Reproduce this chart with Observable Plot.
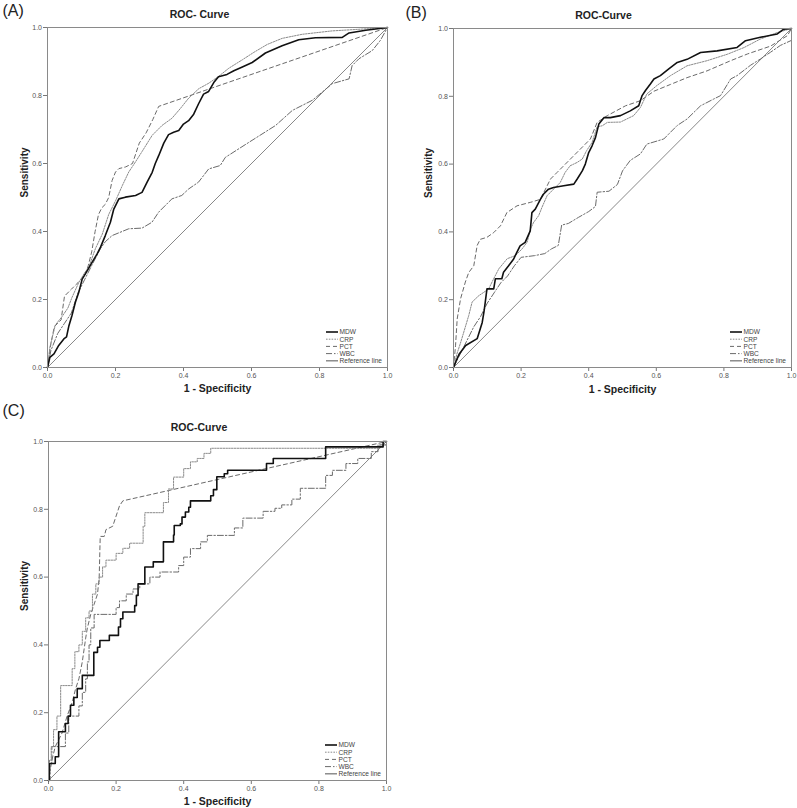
<!DOCTYPE html>
<html>
<head>
<meta charset="utf-8">
<script src="https://cdn.jsdelivr.net/npm/d3@7"></script>
<script src="https://cdn.jsdelivr.net/npm/@observablehq/plot@0.6"></script>
<style>
  html, body { margin: 0; padding: 0; background: #fff; }
  #page { position: relative; width: 797px; height: 808px; background: #fff; overflow: hidden; }
  .panel { position: absolute; }
</style>
</head>
<body>
<div id="page">
  <div id="pA" class="panel" style="left:0;top:0"></div>
  <div id="pB" class="panel" style="left:395px;top:0"></div>
  <div id="pC" class="panel" style="left:0;top:395px"></div>
</div>
<script>
// ---------- texts ----------
const panelTags = ["(A)", "(B)", "(C)"];
const panelTitles = ["ROC- Curve", "ROC-Curve", "ROC-Curve"];
const xLabel = "1 - Specificity";
const yLabel = "Sensitivity";
const seriesNames = ["MDW", "CRP", "PCT", "WBC", "Reference line"];
const ticks = [0, 0.2, 0.4, 0.6, 0.8, 1.0];
const refLine = [[0, 0], [1, 1]];

// ---------- panel A ----------
const A_MDW = [[0,0],[0.007,0.03],[0.019,0.04],[0.033,0.065],[0.048,0.084],[0.056,0.09],[0.063,0.123],[0.072,0.153],[0.082,0.192],[0.092,0.221],[0.102,0.26],[0.117,0.285],[0.131,0.309],[0.146,0.334],[0.156,0.354],[0.17,0.388],[0.185,0.427],[0.195,0.466],[0.21,0.496],[0.229,0.501],[0.259,0.506],[0.278,0.515],[0.293,0.545],[0.308,0.574],[0.317,0.6],[0.327,0.623],[0.342,0.66],[0.356,0.685],[0.371,0.692],[0.386,0.697],[0.4,0.716],[0.415,0.726],[0.43,0.745],[0.444,0.775],[0.459,0.804],[0.474,0.812],[0.489,0.838],[0.503,0.855],[0.528,0.862],[0.548,0.873],[0.573,0.884],[0.602,0.897],[0.641,0.925],[0.69,0.946],[0.739,0.964],[0.788,0.97],[0.867,0.971],[0.887,0.984],[0.936,0.992],[1,1]];
const A_CRP = [[0,0],[0.007,0.06],[0.023,0.125],[0.043,0.15],[0.06,0.175],[0.072,0.206],[0.092,0.25],[0.11,0.28],[0.121,0.294],[0.141,0.35],[0.161,0.392],[0.18,0.45],[0.2,0.49],[0.22,0.535],[0.239,0.575],[0.259,0.605],[0.278,0.635],[0.308,0.683],[0.337,0.712],[0.366,0.733],[0.391,0.762],[0.415,0.792],[0.445,0.82],[0.474,0.836],[0.503,0.856],[0.533,0.88],[0.573,0.905],[0.607,0.927],[0.646,0.95],[0.69,0.968],[0.749,0.98],[0.837,0.99],[0.92,0.995],[1,1]];
const A_PCT = [[0,0],[0.01,0.07],[0.02,0.12],[0.04,0.14],[0.05,0.21],[0.07,0.23],[0.09,0.25],[0.11,0.27],[0.12,0.3],[0.13,0.34],[0.14,0.4],[0.15,0.45],[0.16,0.47],[0.17,0.48],[0.18,0.5],[0.19,0.55],[0.2,0.575],[0.21,0.585],[0.23,0.59],[0.25,0.6],[0.26,0.63],[0.27,0.66],[0.29,0.69],[0.31,0.73],[0.327,0.768],[1,1]];
const A_WBC = [[0,0],[0.01,0.05],[0.03,0.1],[0.05,0.13],[0.07,0.16],[0.09,0.22],[0.11,0.26],[0.13,0.3],[0.156,0.35],[0.17,0.37],[0.19,0.388],[0.239,0.408],[0.278,0.41],[0.307,0.427],[0.327,0.457],[0.366,0.496],[0.395,0.506],[0.415,0.525],[0.444,0.545],[0.474,0.584],[0.508,0.594],[0.523,0.618],[0.592,0.662],[0.671,0.712],[0.72,0.756],[0.779,0.786],[0.838,0.835],[0.887,0.849],[0.896,0.888],[0.916,0.908],[0.955,0.932],[0.979,0.962],[1,1]];

// ---------- panel B ----------
const B_MDW = [[0,0],[0.008,0.02],[0.017,0.04],[0.036,0.065],[0.07,0.085],[0.085,0.133],[0.09,0.163],[0.094,0.193],[0.099,0.232],[0.119,0.232],[0.124,0.262],[0.143,0.262],[0.148,0.281],[0.163,0.3],[0.178,0.32],[0.187,0.339],[0.197,0.359],[0.212,0.369],[0.227,0.403],[0.232,0.457],[0.242,0.467],[0.257,0.496],[0.266,0.511],[0.281,0.526],[0.296,0.531],[0.326,0.536],[0.356,0.541],[0.366,0.556],[0.381,0.58],[0.39,0.6],[0.4,0.634],[0.41,0.654],[0.42,0.678],[0.43,0.718],[0.445,0.737],[0.464,0.737],[0.494,0.743],[0.523,0.757],[0.548,0.772],[0.558,0.802],[0.568,0.817],[0.583,0.837],[0.593,0.851],[0.612,0.861],[0.637,0.881],[0.662,0.9],[0.691,0.909],[0.731,0.929],[0.78,0.934],[0.839,0.944],[0.864,0.964],[0.908,0.974],[0.958,0.984],[0.977,0.998],[1,1]];
const B_CRP = [[0,0],[0.01,0.04],[0.02,0.07],[0.03,0.103],[0.045,0.153],[0.055,0.193],[0.075,0.212],[0.09,0.222],[0.104,0.232],[0.119,0.262],[0.134,0.291],[0.159,0.321],[0.183,0.33],[0.203,0.35],[0.218,0.37],[0.228,0.409],[0.237,0.428],[0.252,0.448],[0.262,0.473],[0.277,0.507],[0.296,0.526],[0.316,0.546],[0.33,0.575],[0.345,0.595],[0.366,0.605],[0.381,0.615],[0.394,0.64],[0.41,0.664],[0.425,0.71],[0.44,0.713],[0.455,0.723],[0.494,0.724],[0.533,0.743],[0.553,0.767],[0.572,0.807],[0.602,0.832],[0.642,0.861],[0.691,0.89],[0.75,0.905],[0.81,0.924],[0.86,0.944],[0.908,0.969],[0.958,0.988],[1,1]];
const B_PCT = [[0,0],[0.006,0.064],[0.011,0.144],[0.021,0.203],[0.035,0.252],[0.045,0.28],[0.06,0.3],[0.07,0.36],[0.079,0.378],[0.099,0.384],[0.119,0.398],[0.139,0.418],[0.158,0.457],[0.188,0.477],[0.227,0.487],[0.257,0.496],[0.277,0.536],[0.287,0.556],[0.306,0.575],[0.326,0.595],[0.356,0.625],[0.385,0.654],[0.405,0.674],[0.425,0.723],[0.455,0.743],[0.509,0.772],[0.553,0.787],[0.593,0.815],[0.642,0.835],[0.691,0.855],[0.75,0.875],[0.82,0.905],[0.87,0.925],[0.938,0.948],[0.988,0.979],[1,1]];
const B_WBC = [[0,0],[0.02,0.04],[0.04,0.08],[0.06,0.12],[0.08,0.15],[0.1,0.19],[0.12,0.22],[0.14,0.25],[0.16,0.27],[0.18,0.3],[0.2,0.325],[0.24,0.33],[0.27,0.336],[0.29,0.35],[0.31,0.36],[0.32,0.42],[0.34,0.425],[0.37,0.443],[0.4,0.46],[0.42,0.475],[0.425,0.517],[0.46,0.52],[0.485,0.54],[0.5,0.58],[0.523,0.611],[0.553,0.63],[0.572,0.659],[0.622,0.674],[0.662,0.714],[0.691,0.733],[0.731,0.772],[0.77,0.792],[0.79,0.802],[0.82,0.851],[0.839,0.861],[0.878,0.891],[0.908,0.91],[0.938,0.93],[0.967,0.95],[1,0.965],[1,1]];

// ---------- panel C (stepped curves: jump points) ----------
const C_MDW = [[0,0],[0.002,0.05],[0.02,0.07],[0.03,0.144],[0.05,0.168],[0.058,0.19],[0.065,0.222],[0.075,0.245],[0.085,0.271],[0.1,0.31],[0.134,0.378],[0.145,0.393],[0.152,0.413],[0.18,0.428],[0.207,0.453],[0.213,0.477],[0.22,0.497],[0.255,0.516],[0.26,0.546],[0.265,0.58],[0.285,0.63],[0.31,0.645],[0.34,0.704],[0.37,0.724],[0.372,0.752],[0.39,0.757],[0.395,0.777],[0.405,0.792],[0.415,0.806],[0.42,0.825],[0.48,0.84],[0.488,0.858],[0.498,0.896],[0.52,0.905],[0.53,0.915],[0.645,0.935],[0.665,0.95],[0.82,0.984],[0.99,1],[1,1]];
const C_CRP = [[0,0],[0.003,0.06],[0.008,0.1],[0.015,0.15],[0.025,0.19],[0.036,0.28],[0.07,0.33],[0.078,0.38],[0.09,0.4],[0.1,0.44],[0.11,0.48],[0.12,0.5],[0.13,0.55],[0.14,0.58],[0.15,0.6],[0.16,0.63],[0.17,0.65],[0.2,0.67],[0.22,0.685],[0.24,0.7],[0.28,0.75],[0.285,0.79],[0.34,0.82],[0.355,0.86],[0.37,0.895],[0.4,0.92],[0.42,0.94],[0.44,0.95],[0.46,0.965],[0.48,0.98],[0.98,0.99],[1,1]];
const C_PCT = [[0,0],[0.01,0.06],[0.02,0.1],[0.04,0.14],[0.055,0.19],[0.07,0.23],[0.08,0.27],[0.09,0.3],[0.1,0.35],[0.11,0.42],[0.115,0.45],[0.125,0.49],[0.135,0.52],[0.145,0.55],[0.15,0.6],[0.153,0.72],[0.165,0.72],[0.17,0.74],[0.19,0.75],[0.2,0.78],[0.21,0.81],[0.22,0.825],[1,1]];
const C_WBC = [[0,0],[0.005,0.05],[0.01,0.1],[0.05,0.14],[0.06,0.19],[0.09,0.22],[0.1,0.26],[0.11,0.3],[0.115,0.35],[0.12,0.4],[0.125,0.45],[0.135,0.49],[0.2,0.51],[0.21,0.53],[0.23,0.55],[0.25,0.565],[0.27,0.58],[0.3,0.6],[0.33,0.615],[0.37,0.615],[0.385,0.634],[0.4,0.659],[0.42,0.684],[0.45,0.704],[0.47,0.723],[0.55,0.745],[0.575,0.774],[0.635,0.794],[0.67,0.803],[0.69,0.813],[0.72,0.83],[0.745,0.862],[0.82,0.9],[0.84,0.915],[0.88,0.935],[0.915,0.95],[0.955,0.97],[0.975,0.99],[1,1]];

// ---------- styles ----------
const FONT = "'Liberation Sans', Arial, Helvetica, sans-serif";
const seriesStyle = {
  "MDW": {stroke: "#111", strokeWidth: 1.6},
  "CRP": {stroke: "#8a8a8a", strokeWidth: 1, strokeDasharray: "1.6,1.2"},
  "PCT": {stroke: "#6a6a6a", strokeWidth: 1, strokeDasharray: "4,3"},
  "WBC": {stroke: "#6a6a6a", strokeWidth: 1, strokeDasharray: "6,2,1.5,2"},
  "Reference line": {stroke: "#7a7a7a", strokeWidth: 0.9}
};

function panel(cfg) {
  const {series, curves, tag, title, width, height, ml, mr, mt, mb, titleDx, titleDy, tagDx, tagDy, yLabDx, xLabDy} = cfg;
  const lineMarks = [Plot.line(refLine, {x: d => d[0], y: d => d[1], ...seriesStyle["Reference line"]})];
  ["WBC", "PCT", "CRP", "MDW"].forEach((k) => {
    lineMarks.push(Plot.line(series[k], {x: d => d[0], y: d => d[1], curve: curves[k] || "linear", ...seriesStyle[k]}));
  });
  const svg = Plot.plot({
    width, height,
    marginLeft: ml, marginRight: mr, marginTop: mt, marginBottom: mb,
    x: {domain: [0, 1]},
    y: {domain: [0, 1]},
    style: {fontFamily: FONT, color: "#555", background: "white", overflow: "visible"},
    marks: [
      Plot.axisX({ticks, tickFormat: d3.format(".1f"), tickSize: 4, tickPadding: 1.5, fontSize: 7, label: null, stroke: "#777", fill: "#555"}),
      Plot.axisY({ticks, tickFormat: d3.format(".1f"), tickSize: 4, tickPadding: 1.5, fontSize: 7, label: null, stroke: "#777", fill: "#555"}),
      ...lineMarks,
      Plot.frame({stroke: "#8a8a8a", strokeWidth: 1}),
      Plot.text([title], {text: d => d, frameAnchor: "top", dx: titleDx, dy: titleDy, lineAnchor: "middle", fontWeight: "bold", fontSize: 10.5, fill: "#222"}),
      Plot.text([xLabel], {text: d => d, frameAnchor: "bottom", dy: xLabDy, lineAnchor: "middle", fontWeight: "bold", fontSize: 10.5, fill: "#222"}),
      Plot.text([yLabel], {text: d => d, frameAnchor: "left", dx: yLabDx, rotate: -90, lineAnchor: "middle", fontWeight: "bold", fontSize: 10, fill: "#222"}),
      Plot.text([tag], {text: d => d, frameAnchor: "top-left", textAnchor: "start", dx: tagDx, dy: tagDy, lineAnchor: "middle", fontSize: 16, fill: "#222"})
    ]
  });
  // legend (bottom-right inside frame)
  const R = width - mr, B = height - mb;
  const g = d3.select(svg).append("g")
    .attr("font-family", FONT).attr("font-size", 6.6).attr("text-anchor", "start");
  seriesNames.forEach((name, i) => {
    const y = B - 35 + i * 7.2;
    const st = seriesStyle[name];
    g.append("line").attr("x1", R - 61).attr("x2", R - 49).attr("y1", y).attr("y2", y)
      .attr("stroke", st.stroke).attr("stroke-width", name === "Reference line" ? 1.3 : st.strokeWidth)
      .attr("stroke-dasharray", st.strokeDasharray || null);
    g.append("text").attr("x", R - 47.5).attr("y", y).attr("dy", "0.35em")
      .attr("text-anchor", "start").attr("fill", "#444").text(name);
  });
  return svg;
}

document.getElementById("pA").appendChild(panel({
  series: {MDW: A_MDW, CRP: A_CRP, PCT: A_PCT, WBC: A_WBC}, curves: {},
  tag: panelTags[0], title: panelTitles[0],
  width: 395, height: 395, ml: 47, mr: 8, mt: 27, mb: 28,
  titleDx: -18, titleDy: -12.5, tagDx: -45, tagDy: -17, yLabDx: -23, xLabDy: 21
}));
document.getElementById("pB").appendChild(panel({
  series: {MDW: B_MDW, CRP: B_CRP, PCT: B_PCT, WBC: B_WBC}, curves: {},
  tag: panelTags[1], title: panelTitles[1],
  width: 402, height: 395, ml: 58, mr: 6, mt: 28, mb: 28,
  titleDx: -19, titleDy: -13, tagDx: -48, tagDy: -16, yLabDx: -24.5, xLabDy: 22
}));
document.getElementById("pC").appendChild(panel({
  series: {MDW: C_MDW, CRP: C_CRP, PCT: C_PCT, WBC: C_WBC},
  curves: {MDW: "step-after", CRP: "step-after", WBC: "step-after"},
  tag: panelTags[2], title: panelTitles[2],
  width: 395, height: 413, ml: 48, mr: 9, mt: 46, mb: 28,
  titleDx: -18.5, titleDy: -13.5, tagDx: -46, tagDy: -30.5, yLabDx: -24, xLabDy: 21
}));
</script>
</body>
</html>
